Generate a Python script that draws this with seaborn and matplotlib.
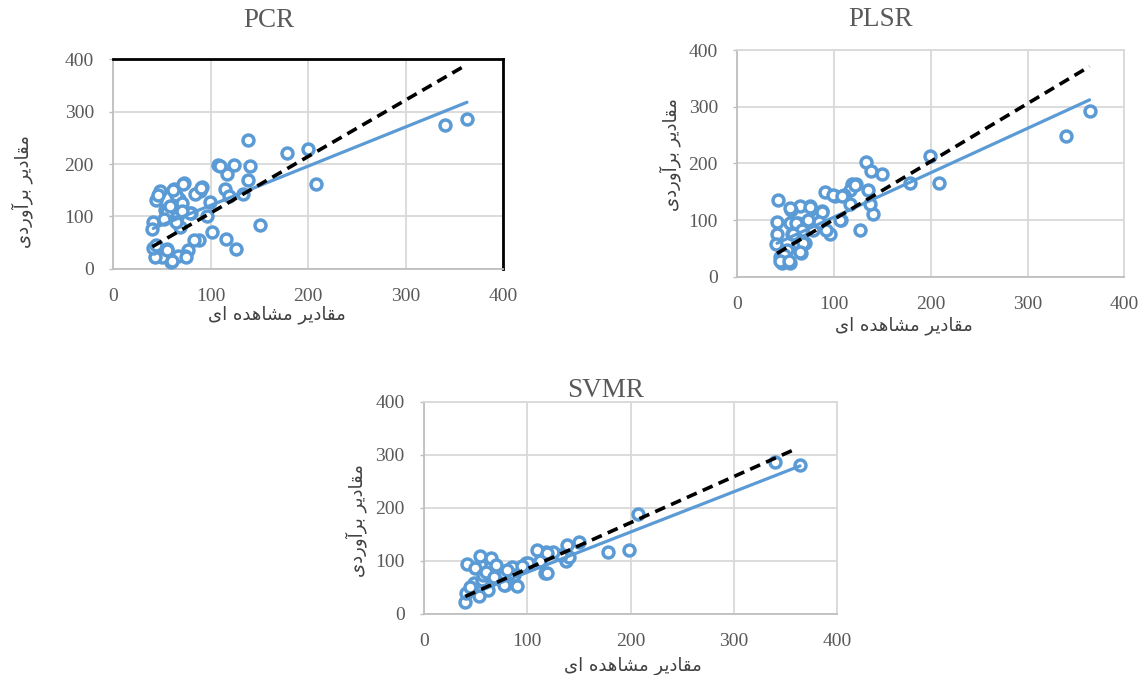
import matplotlib
matplotlib.use("Agg")
import seaborn as sns
from matplotlib import pyplot as plt

pcr_obs = [363, 340, 208, 200, 178, 151, 138, 140, 138, 133, 124, 117, 115, 119, 107, 109,
           126, 116, 101, 99, 96, 91, 89, 84, 80, 73, 69, 67, 62, 64, 61, 56, 53, 48, 44, 41,
           40, 88, 83, 77, 74, 66, 59, 55, 50, 43, 41, 68, 61, 72, 90, 70, 55, 65, 79, 44,
           55, 60, 75, 46, 58, 64, 52, 70]
pcr_pred = [286, 274, 161, 229, 222, 83, 246, 196, 169, 143, 199, 181, 153, 139, 198, 196,
            37, 57, 70, 128, 101, 156, 148, 143, 106, 163, 125, 134, 153, 141, 99, 106, 112, 149, 131, 90,
            75, 55, 55, 36, 24, 24, 13, 37, 23, 22, 39, 80, 150, 162, 154, 125, 109, 99, 106, 45,
            36, 15, 23, 140, 120, 90, 95, 110]
pcr_fit_x = [41, 363]
pcr_fit_y = [77, 318]
pcr_dash_x = [40, 362]
pcr_dash_y = [42, 389]

plsr_obs = [364, 340, 208, 199, 178, 150, 133, 138, 140, 137, 127, 123, 119, 116, 116, 110,
            101, 91, 107, 96, 92, 87, 82, 75, 65, 55, 42, 41, 41, 40, 44, 46, 54, 66, 70, 63,
            56, 54, 63, 73, 78, 51, 99, 108, 122, 135, 54, 87, 84, 61, 67, 58, 68, 48, 44, 53,
            65, 106, 75]
plsr_pred = [293, 248, 166, 213, 166, 181, 203, 187, 111, 129, 82, 163, 163, 153, 129, 144,
             143, 150, 100, 75, 82, 116, 103, 125, 125, 118, 136, 97, 76, 57, 35, 24, 25, 42, 59, 59,
             76, 95, 94, 100, 82, 47, 144, 142, 162, 153, 121, 115, 97, 94, 82, 76, 59, 38, 27, 27,
             44, 100, 123]
plsr_fit_x = [41, 364]
plsr_fit_y = [59, 312]
plsr_dash_x = [41, 364]
plsr_dash_y = [41, 371]

svmr_obs = [364, 340, 207, 198, 178, 150, 138, 137, 140, 133, 125, 118, 117, 109, 112, 99,
            90, 86, 78, 73, 64, 65, 54, 42, 49, 48, 62, 53, 40, 41, 56, 65, 70, 85, 77, 57,
            87, 77, 119, 119, 101, 60, 68, 80, 45, 95]
svmr_pred = [280, 287, 188, 121, 117, 136, 130, 99, 108, 111, 117, 117, 77, 121, 99, 97,
             53, 86, 55, 77, 102, 92, 109, 94, 86, 59, 45, 33, 23, 39, 64, 105, 92, 89, 77, 73,
             73, 55, 115, 77, 96, 80, 70, 82, 50, 90]
svmr_fit_x = [40, 364]
svmr_fit_y = [33, 279]
svmr_dash_x = [40, 361]
svmr_dash_y = [33, 312]

titles = ["PCR", "PLSR", "SVMR"]
ticks = [0, 100, 200, 300, 400]

# * Persian labels written as shaped glyphs in visual (left-to-right) order
x_label = "\uFEEF\uFE8D \uFEE9\uFEAA\uFEEB\uFE8E\uFEB8\uFEE3 \uFEAE\uFEF3\uFEA9\uFE8E\uFED8\uFEE3"
y_label = "\uFEEF\uFEA9\uFEAD\uFEED\uFE81\uFEAE\uFE91 \uFEAE\uFEF3\uFEA9\uFE8E\uFED8\uFEE3"

blue = "#5B9BD5"
grey_txt = "#595959"
grid_c = "#D9D9D9"

sns.set_theme(style="white")
plt.rcParams["font.family"] = ["Liberation Serif", "DejaVu Sans"]

fig = plt.figure(figsize=(11.48, 6.75), dpi=100)

panels = [
    # rect, data, title (x, pad), xlabel pos, ylabel pos
    ([0.0987, 0.6019, 0.3395, 0.3102], (pcr_obs, pcr_pred, pcr_fit_x, pcr_fit_y, pcr_dash_x, pcr_dash_y),
     (0.40, 23), (0.42, -0.175), (-0.205, 0.37)),
    ([0.6423, 0.5901, 0.3371, 0.3358], (plsr_obs, plsr_pred, plsr_fit_x, plsr_fit_y, plsr_dash_x, plsr_dash_y),
     (0.37, 17), (0.43, -0.175), (-0.145, 0.54)),
    ([0.3693, 0.0904, 0.3600, 0.3145], (svmr_obs, svmr_pred, svmr_fit_x, svmr_fit_y, svmr_dash_x, svmr_dash_y),
     (0.44, 3.6), (0.505, -0.20), (-0.138, 0.44)),
]

for i, (rect, data, tpos, xl_pos, yl_pos) in enumerate(panels):
    obs, pred, fx, fy, dx, dy = data
    ax = fig.add_axes(rect)

    # * scatter of hollow circles
    sns.scatterplot(x=obs, y=pred, ax=ax, s=62, marker="o", facecolor="white",
                    edgecolor=blue, linewidth=2.5, zorder=3)
    # * trend line and dashed line
    sns.lineplot(x=fx, y=fy, ax=ax, color=blue, linewidth=2.3, zorder=4)
    sns.lineplot(x=dx, y=dy, ax=ax, color="black", linewidth=2.6,
                 linestyle=(0, (3, 1.8)), zorder=5)

    ax.set_xlim(0, 400)
    ax.set_ylim(0, 400)
    ax.set_xticks(ticks)
    ax.set_yticks(ticks)
    ax.grid(True, color=grid_c, linewidth=1.3, zorder=0)
    ax.set_axisbelow(True)

    for side in ["left", "bottom", "top", "right"]:
        ax.spines[side].set_color(grid_c)
        ax.spines[side].set_linewidth(1.3)
    ax.spines["left"].set_color("#BFBFBF")
    ax.spines["bottom"].set_color("#BFBFBF")
    if i == 0:
        ax.spines["top"].set_color("black")
        ax.spines["right"].set_color("black")
        ax.spines["top"].set_linewidth(2)
        ax.spines["right"].set_linewidth(2)

    ax.tick_params(axis="y", left=True, length=3, width=1, color="#BFBFBF",
                   labelsize=14, labelcolor=grey_txt, pad=11)
    ax.tick_params(axis="x", bottom=False, labelsize=14, labelcolor=grey_txt, pad=8)

    ax.set_title(titles[i], fontsize=19.5, color=grey_txt, pad=tpos[1], x=tpos[0],
                 family=["Liberation Serif", "DejaVu Sans"])

    ax.set_xlabel(x_label, fontsize=13, color="#404040", family=["DejaVu Sans"])
    ax.xaxis.set_label_coords(*xl_pos)
    ax.set_ylabel(y_label, fontsize=13, color="#404040", family=["DejaVu Sans"])
    ax.yaxis.set_label_coords(*yl_pos)

plt.savefig("out.png", dpi=100)
plt.close()
